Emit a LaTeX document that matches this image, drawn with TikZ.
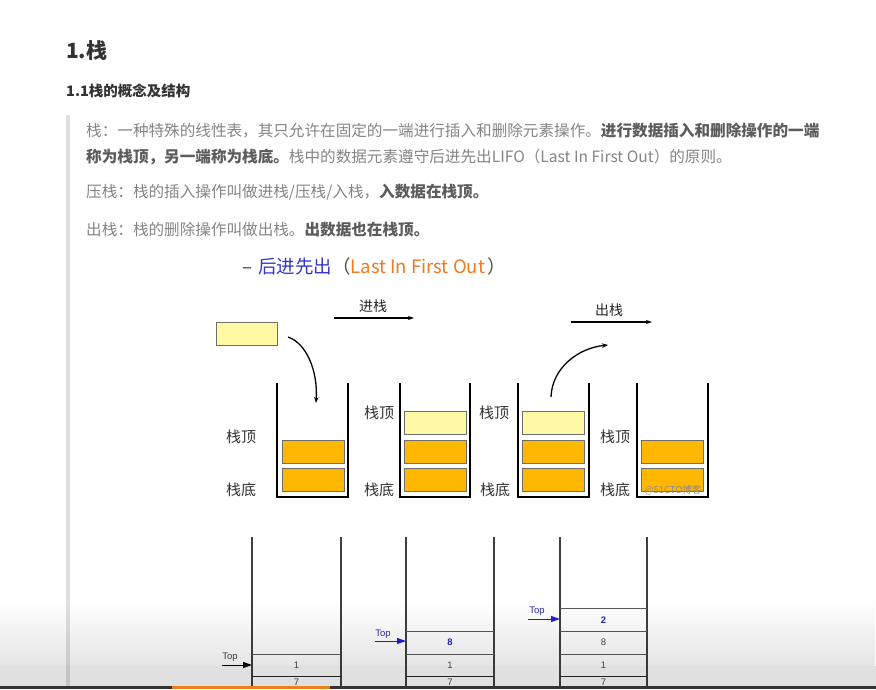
\documentclass[tikz,border=0pt]{standalone}
\usepackage{fontspec}
\setmainfont{Liberation Sans}
\newfontfamily\cjk{Noto Sans CJK SC}
\newfontfamily\arialf{Liberation Sans}
\usetikzlibrary{arrows.meta,fadings}
\definecolor{bodytxt}{HTML}{858585}
\definecolor{boldtxt}{HTML}{5C5C5C}
\definecolor{headtxt}{HTML}{333333}
\definecolor{orangebox}{HTML}{FFB700}
\definecolor{yellowbox}{HTML}{FFF9A3}
\definecolor{boxedge}{HTML}{6E6E6E}
\definecolor{titleblue}{HTML}{3535C8}
\definecolor{titleorange}{HTML}{EC7A22}
\definecolor{numblue}{HTML}{2B2BB0}
\definecolor{arrowblue}{HTML}{2020E0}
\tikzset{
  para/.style={anchor=base west, inner sep=0pt, font=\cjk\fontsize{15.6}{18}\selectfont, text=bodytxt},
  wall/.style={line width=2.4pt, black},
  obox/.style={draw=boxedge, line width=0.8pt, fill=orangebox},
  ybox/.style={draw=boxedge, line width=0.8pt, fill=yellowbox},
  slabel/.style={inner sep=0pt, font=\cjk\fontsize{15}{17}\selectfont, text=black!80},
  oplabel/.style={inner sep=0pt, font=\cjk\fontsize{14}{16}\selectfont, text=black!85},
  oparrow/.style={line width=1.1pt, -{Stealth[length=6pt,width=4pt]}},
  cline/.style={line width=1.3pt, -{Stealth[length=6pt,width=4.5pt]}},
  pole/.style={line width=1.2pt, black!75},
  cell/.style={line width=1.0pt, black!65},
  num/.style={inner sep=0pt, font=\arialf\fontsize{9.5}{11}\selectfont, text=black!70},
  bnum/.style={inner sep=0pt, font=\arialf\bfseries\fontsize{9.5}{11}\selectfont, text=numblue},
  toplab/.style={inner sep=0pt, font=\arialf\fontsize{9.5}{11}\selectfont},
  toparrow/.style={line width=1pt, -{Triangle[length=9pt,width=6pt]}},
}
\begin{document}
\begin{tikzpicture}[x=1pt,y=-1pt]
\useasboundingbox (0,0) rectangle (876,689);
\fill[white] (0,0) rectangle (876,689);
% headings
\node[anchor=base west, inner sep=0pt, font=\cjk\bfseries\fontsize{21}{23}\selectfont, text=headtxt] (h1) at (66,58) {1.栈};
\node[anchor=base west, inner sep=0pt, font=\cjk\bfseries\fontsize{14.5}{16}\selectfont, text=headtxt] (h2) at (66,96) {1.1栈的概念及结构};
% quote bar
\fill[black!12] (66,115) rectangle (70,689);
% paragraph
\node[para] (p1) at (86,136) {栈：一种特殊的线性表，其只允许在固定的一端进行插入和删除元素操作。\textcolor{boldtxt}{\bfseries 进行数据插入和删除操作的一端}};
\node[para] (p2) at (86,162) {\textcolor{boldtxt}{\bfseries 称为栈顶，另一端称为栈底。}栈中的数据元素遵守后进先出LIFO（Last In First Out）的原则。};
\node[para] (p3) at (86,197) {压栈：栈的插入操作叫做进栈/压栈/入栈，\textcolor{boldtxt}{\bfseries 入数据在栈顶。}};
\node[para] (p4) at (86,235) {出栈：栈的删除操作叫做出栈。\textcolor{boldtxt}{\bfseries 出数据也在栈顶。}};
% LIFO title
\node[anchor=base west, inner sep=0pt, font=\cjk\fontsize{18.5}{21}\selectfont] (lifo) at (242,273) {\textcolor{black!80}{–}\hspace{6pt}\textcolor{titleblue}{后进先出}\textcolor{black!70}{（}\textcolor{titleorange}{Last In First Out}\hspace{2pt}\textcolor{black!70}{）}};
% top diagram: op labels and arrows
\node[oplabel] (push) at (373,306) {进栈};
\coordinate (pushA) at (334,318);
\coordinate (pushB) at (414,318);
\draw[oparrow] (pushA) -- (pushB);
\node[oplabel] (pop) at (609,310) {出栈};
\coordinate (popA) at (571,322);
\coordinate (popB) at (652,322);
\draw[oparrow] (popA) -- (popB);
% incoming element
\node[ybox, minimum width=61pt, minimum height=23pt, inner sep=0pt] (newel) at (246.5,333.5) {};
\coordinate (inA) at (288,337);
\coordinate (inB) at (316,403);
\draw[cline] (inA) .. controls (306,343) and (318,370) .. (inB);
% stack 1
\draw[wall] (277,383) -- (277,497) -- (348,497) -- (348,383);
\node[obox, minimum width=62pt, minimum height=23pt, inner sep=0pt] (s1a) at (313,451.5) {};
\node[obox, minimum width=62pt, minimum height=23pt, inner sep=0pt] (s1b) at (313,480) {};
\node[slabel] (s1top) at (241,437) {栈顶};
\node[slabel] (s1bot) at (241,490) {栈底};
% stack 2
\draw[wall] (400,383) -- (400,497) -- (470,497) -- (470,383);
\node[ybox, minimum width=62pt, minimum height=23pt, inner sep=0pt] (s2c) at (435.5,423) {};
\node[obox, minimum width=62pt, minimum height=23pt, inner sep=0pt] (s2a) at (435.5,451.5) {};
\node[obox, minimum width=62pt, minimum height=23pt, inner sep=0pt] (s2b) at (435.5,480) {};
\node[slabel] (s2top) at (379,413) {栈顶};
\node[slabel] (s2bot) at (379,490) {栈底};
% stack 3
\draw[wall] (518,383) -- (518,497) -- (589,497) -- (589,383);
\node[ybox, minimum width=62pt, minimum height=23pt, inner sep=0pt] (s3c) at (553.5,423) {};
\node[obox, minimum width=62pt, minimum height=23pt, inner sep=0pt] (s3a) at (553.5,451.5) {};
\node[obox, minimum width=62pt, minimum height=23pt, inner sep=0pt] (s3b) at (553.5,480) {};
\node[slabel] (s3top) at (494,413) {栈顶};
\node[slabel] (s3bot) at (495,490) {栈底};
\coordinate (outA) at (551,397);
\coordinate (outB) at (608,345);
\draw[cline] (outA) .. controls (552,368) and (578,348) .. (outB);
% stack 4
\draw[wall] (637,383) -- (637,497) -- (708,497) -- (708,383);
\node[obox, minimum width=62pt, minimum height=23pt, inner sep=0pt] (s4a) at (672.5,451.5) {};
\node[obox, minimum width=62pt, minimum height=23pt, inner sep=0pt] (s4b) at (672.5,480) {};
\node[slabel] (s4top) at (615,437) {栈顶};
\node[slabel] (s4bot) at (615,490) {栈底};
\node[inner sep=0pt, font=\cjk\fontsize{9.5}{11}\selectfont, text=black!45] (wm) at (673,490) {@51CTO博客};
% bottom diagram
% stack A
\draw[pole] (252,537) -- (252,689);
\draw[pole] (341,537) -- (341,689);
\draw[cell] (252,654) -- (341,654);
\draw[cell, black!85] (252,676) -- (341,676);
\node[num] (a1) at (296.5,665) {1};
\node[num] (a7) at (296.5,682) {7};
\node[toplab, text=black!75] (atop) at (230,657) {Top};
\coordinate (aA) at (222,665);
\coordinate (aB) at (252,665);
\draw[toparrow, black] (aA) -- (aB);
% stack B
\draw[pole] (406,537) -- (406,689);
\draw[pole] (494,537) -- (494,689);
\draw[cell] (406,631) -- (494,631);
\draw[cell] (406,654) -- (494,654);
\draw[cell, black!85] (406,676) -- (494,676);
\node[bnum] (b8) at (450,642) {8};
\node[num] (b1) at (450,665) {1};
\node[num] (b7) at (450,682) {7};
\node[toplab, text=numblue] (btop) at (383,634) {Top};
\coordinate (bA) at (375,641);
\coordinate (bB) at (406,641);
\draw[toparrow, arrowblue] (bA) -- (bB);
% stack C
\draw[pole] (560,537) -- (560,689);
\draw[pole] (647,537) -- (647,689);
\draw[cell] (560,608) -- (647,608);
\draw[cell] (560,631) -- (647,631);
\draw[cell] (560,654) -- (647,654);
\draw[cell, black!85] (560,676) -- (647,676);
\node[bnum] (c2) at (603.5,620) {2};
\node[num] (c8) at (603.5,642) {8};
\node[num] (c1) at (603.5,665) {1};
\node[num] (c7) at (603.5,682) {7};
\node[toplab, text=numblue] (ctop) at (537,611) {Top};
\coordinate (cA) at (528,619);
\coordinate (cB) at (560,619);
\draw[toparrow, arrowblue] (cA) -- (cB);
% video overlay
\fill[black, fill opacity=0.10, path fading=north] (0,600) rectangle (876,666);
\fill[black, fill opacity=0.12] (0,666) rectangle (876,686);
\fill[black!80] (0,686) rectangle (876,689);
\fill[orange!70!brown] (172,686) rectangle (330,689);
\end{tikzpicture}
\end{document}
